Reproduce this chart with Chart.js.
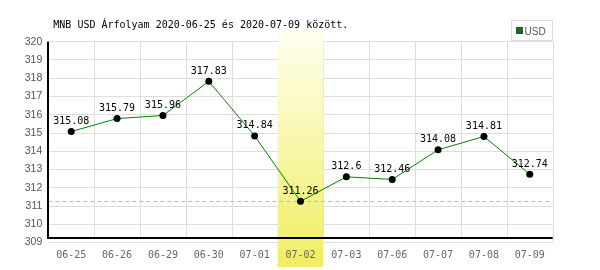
<!DOCTYPE html>
<html>
<head>
<meta charset="utf-8">
<script src="https://cdn.jsdelivr.net/npm/chart.js@4"></script>
<style>
  body { margin: 0; background: #fff; }
  canvas { display: block; }
</style>
</head>
<body>
<canvas id="rateChart" width="600" height="270"></canvas>
<script>
        // Adatok
        const labels = ['06-25', '06-26', '06-29', '06-30', '07-01', '07-02', '07-03', '07-06', '07-07', '07-08', '07-09'];
        const usdRates = [315.08, 315.79, 315.96, 317.83, 314.84, 311.26, 312.6, 312.46, 314.08, 314.81, 312.74];
        const yMin = 309;
        const yMax = 320;
        const titleText = 'MNB USD Árfolyam 2020-06-25 és 2020-07-09 között.';
        const seriesName = 'USD';

        const minRate = Math.min(...usdRates);
        const minIndex = usdRates.indexOf(minRate);

        const monoFont = '"DejaVu Sans Mono", monospace';

        // Band, extra grid lines, min line, axes
        const framePlugin = {
            id: 'frame',
            beforeDatasetsDraw(chart) {
                const ctx = chart.ctx;
                const a = chart.chartArea;
                const x = chart.scales.x;
                const y = chart.scales.y;
                const step = x.getPixelForValue(1) - x.getPixelForValue(0);
                const axisY = Math.round(a.bottom - 4.5);
                ctx.save();

                // vertical grid lines
                ctx.strokeStyle = '#dddddd';
                ctx.lineWidth = 1;
                for (let i = 1; i <= labels.length; i++) {
                    const gx = Math.round(x.getPixelForValue(i) - step / 2) + 0.5;
                    ctx.beginPath();
                    ctx.moveTo(gx, a.top);
                    ctx.lineTo(gx, i === labels.length ? a.bottom : axisY);
                    ctx.stroke();
                }

                // highlighted (minimum) day
                const bx = x.getPixelForValue(minIndex) - step / 2;
                const top = a.top - 13;
                const bottom = chart.height - 3;
                const grad = ctx.createLinearGradient(0, top, 0, bottom);
                grad.addColorStop(0, '#fffff2');
                grad.addColorStop(1, '#f0ee60');
                ctx.fillStyle = grad;
                ctx.fillRect(bx, top, step, bottom - top);

                // dashed minimum line
                const my = Math.round(y.getPixelForValue(minRate)) + 0.5;
                ctx.strokeStyle = '#a3c8a3';
                ctx.setLineDash([4, 3]);
                ctx.beginPath();
                ctx.moveTo(a.left, my);
                ctx.lineTo(a.right, my);
                ctx.stroke();
                ctx.setLineDash([]);

                // axes
                ctx.strokeStyle = '#000';
                ctx.lineWidth = 2;
                ctx.beginPath();
                ctx.moveTo(Math.round(a.left), a.top);
                ctx.lineTo(Math.round(a.left), axisY);
                ctx.lineTo(a.right, axisY);
                ctx.stroke();
                ctx.restore();
            },
            afterDatasetsDraw(chart) {
                const ctx = chart.ctx;
                const meta = chart.getDatasetMeta(0);
                ctx.save();
                ctx.fillStyle = '#000';
                ctx.font = '10px ' + monoFont;
                ctx.textAlign = 'center';
                ctx.textBaseline = 'alphabetic';
                meta.data.forEach(function(pt, i) {
                    ctx.fillText(String(usdRates[i]), pt.x, pt.y - 7.5);
                });
                ctx.restore();
            },
            afterDraw(chart) {
                const ctx = chart.ctx;
                const a = chart.chartArea;
                ctx.save();
                // title
                ctx.fillStyle = '#000';
                ctx.font = '10px ' + monoFont;
                ctx.textAlign = 'left';
                ctx.textBaseline = 'alphabetic';
                ctx.fillText(titleText, a.left + 5, 28);

                // legend box
                const lx = Math.round(a.right) - 41.5;
                ctx.fillStyle = '#fff';
                ctx.fillRect(lx, 20.5, 41, 20);
                ctx.strokeStyle = '#dddddd';
                ctx.lineWidth = 1;
                ctx.strokeRect(lx, 20.5, 41, 20);
                ctx.fillStyle = '#008000';
                ctx.fillRect(lx + 5, 27.5, 6, 6);
                ctx.strokeStyle = '#444';
                ctx.strokeRect(lx + 5, 27.5, 6, 6);
                ctx.fillStyle = '#555';
                ctx.font = '10px "Liberation Sans Narrow", "Liberation Sans", sans-serif';
                ctx.fillText(seriesName, lx + 13, 35);
                ctx.restore();
            }
        };

        const ctx = document.getElementById('rateChart').getContext('2d');
        window.rateChart = new Chart(ctx, {
            type: 'line',
            data: {
                labels: labels,
                datasets: [{
                    label: seriesName,
                    data: usdRates,
                    borderColor: '#008000',
                    borderWidth: 1,
                    tension: 0,
                    pointRadius: 3.5,
                    pointBackgroundColor: '#000',
                    pointBorderWidth: 0,
                    fill: false
                }]
            },
            options: {
                responsive: false,
                maintainAspectRatio: false,
                animation: false,
                layout: {
                    padding: { top: 41.7, right: 47.3, bottom: 0, left: 0 }
                },
                plugins: {
                    legend: { display: false },
                    title: { display: false },
                    tooltip: { enabled: false }
                },
                scales: {
                    x: {
                        type: 'category',
                        offset: true,
                        grid: { display: false },
                        border: { display: false },
                        ticks: {
                            z: 1,
                            color: '#666',
                            font: { family: monoFont, size: 10, lineHeight: 1 },
                            padding: 0,
                            maxRotation: 0,
                            autoSkip: false
                        },
                        afterFit(scale) { scale.height = 27.4; }
                    },
                    y: {
                        min: yMin,
                        max: yMax,
                        grid: { color: '#dddddd', drawTicks: false },
                        border: { display: false },
                        ticks: {
                            stepSize: 1,
                            color: '#555',
                            padding: 6,
                            font: { family: '"Liberation Sans", Arial, sans-serif', size: 10.5 }
                        },
                        afterFit(scale) { scale.width = 48.3; }
                    }
                }
            },
            plugins: [framePlugin]
        });
</script>
</body>
</html>
